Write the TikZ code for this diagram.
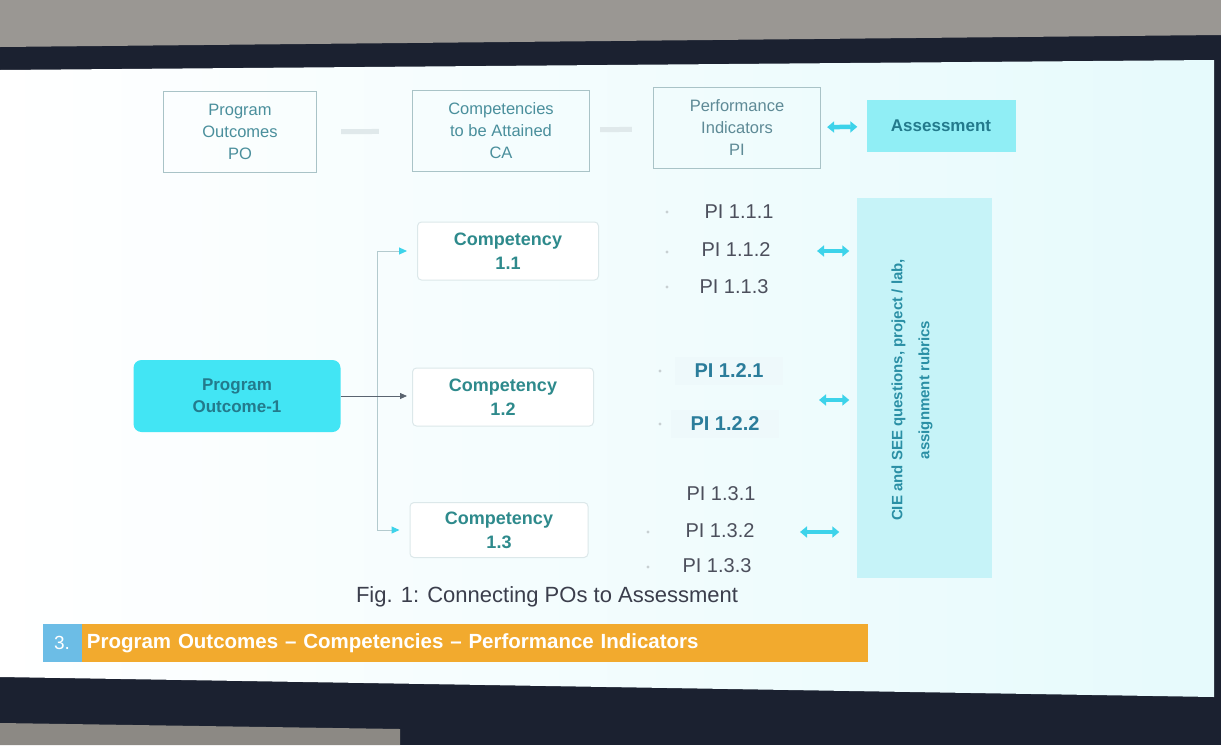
\documentclass[tikz,border=0pt]{standalone}
\usepackage{fontspec}
\setmainfont{Liberation Sans}
\usepackage{tikz}
\usetikzlibrary{arrows.meta, positioning}

\definecolor{wall}{HTML}{9A9793}
\definecolor{bezel}{HTML}{1B2130}
\definecolor{floorgray}{HTML}{8C8984}
\definecolor{slidecyan}{HTML}{E6FAFC}
\definecolor{boxline}{HTML}{A9C3C7}
\definecolor{tealtext}{HTML}{4A8F9C}
\definecolor{pitext}{HTML}{5E8A96}
\definecolor{fadeline}{HTML}{E0E9EB}
\definecolor{compline}{HTML}{DCE8EA}
\definecolor{comptext}{HTML}{2E8A8C}
\definecolor{pocyan}{HTML}{42E5F4}
\definecolor{potext}{HTML}{237A8C}
\definecolor{assesscyan}{HTML}{90EEF5}
\definecolor{toolcyan}{HTML}{C6F3F8}
\definecolor{tooltext}{HTML}{2A8FA5}
\definecolor{arrowcyan}{HTML}{3DD3EA}
\definecolor{branchline}{HTML}{B3CACE}
\definecolor{trunkline}{HTML}{5A6470}
\definecolor{pigray}{HTML}{4C4F5C}
\definecolor{piblue}{HTML}{2B7D9B}
\definecolor{pifill}{HTML}{EEF9FB}
\definecolor{dotgray}{HTML}{C8D0D2}
\definecolor{captext}{HTML}{3B3E4C}
\definecolor{bannerblue}{HTML}{6CBDE6}
\definecolor{bannerorange}{HTML}{F2AA2E}

\begin{document}
\begin{tikzpicture}[x=1pt, y=-1pt,
    topbox/.style={draw=boxline, line width=1.2pt, align=center, text=tealtext,
        font=\fontsize{16.5}{22}\selectfont, minimum height=81pt},
    compbox/.style={draw=compline, line width=1pt, rounded corners=4pt, fill=white,
        align=center, text=comptext, font=\bfseries\fontsize{18}{24}\selectfont,
        minimum width=181pt, minimum height=58pt},
    pilabel/.style={text=pigray, font=\fontsize{20}{24}\selectfont},
    piblue/.style={text=piblue, fill=pifill, minimum width=108pt, minimum height=28pt,
        font=\bfseries\fontsize{20}{24}\selectfont},
    dbl/.style={line width=4.5pt, arrowcyan,
        {Triangle[length=7pt,width=11pt]}-{Triangle[length=7pt,width=11pt]}},
    fade/.style={line width=5pt, fadeline},
    branch/.style={draw=branchline, line width=1pt,
        -{Triangle[length=8pt,width=7pt,color=arrowcyan]}},
    trunk/.style={draw=trunkline, line width=0.8pt,
        -{Triangle[length=7pt,width=6pt]}}]

    \useasboundingbox (0,0) rectangle (1221,745);

    % photo frame: wall, bezel, slide
    \fill[bezel] (0,0) rectangle (1221,745);
    \fill[wall] (0,0) -- (1221,0) -- (1221,35) -- (0,47) -- cycle;
    \fill[floorgray] (0,723) -- (400,729) -- (400,745) -- (0,745) -- cycle;
    \shade[left color=white, right color=slidecyan] (0,70) -- (1214,60) -- (1214,697) -- (0,677) -- cycle;

    % top row
    \node[topbox, minimum width=153pt] (po) at (240,132) {Program\\Outcomes\\PO};
    \node[topbox, minimum width=177pt] (ca) at (501,131) {Competencies\\to be Attained\\CA};
    \node[topbox, minimum width=167pt, text=pitext] (pi) at (737,128) {Performance\\Indicators\\PI};
    \node[fill=assesscyan, minimum width=149pt, minimum height=52pt, text=potext,
        font=\bfseries\fontsize{17}{20}\selectfont] (assess) at (941,126) {Assessment};

    \draw[fade, shorten <=24pt, shorten >=33pt] (po) -- (ca);
    \draw[fade, shorten <=10pt, shorten >=21pt] (ca) -- (pi);
    \draw[dbl, shorten <=6pt, shorten >=9pt] (pi) -- (assess);

    % outcome and competencies
    \node[fill=pocyan, rounded corners=8pt, minimum width=207pt, minimum height=72pt,
        align=center, text=potext, font=\bfseries\fontsize{17}{22}\selectfont] (po1) at (237,396) {Program\\Outcome-1};
    \node[compbox] (comp11) at (508,251) {Competency\\1.1};
    \node[compbox] (comp12) at (503,397) {Competency\\1.2};
    \node[compbox, minimum width=178pt, minimum height=55pt] (comp13) at (499,530) {Competency\\1.3};

    \coordinate (split) at (377,396);
    \draw[branch, shorten >=10pt] (split) |- (comp11);
    \draw[branch, shorten >=10pt] (split) |- (comp13);
    \draw[trunk, shorten >=5pt] (po1.east) -- (po1.east -| comp12.west);

    % performance indicators
    \foreach \nm/\px/\py/\lbl in {p111/739/212/1.1.1, p112/736/250/1.1.2, p113/734/287/1.1.3,
        p131/721/494/1.3.1, p132/720/531/1.3.2, p133/717/566/1.3.3}
        \node[pilabel] (\nm) at (\px,\py) {PI \lbl};
    \node[piblue] (p121) at (729,371) {PI 1.2.1};
    \node[piblue] (p122) at (725,424) {PI 1.2.2};

    \foreach \px/\py in {667/212, 667/252, 667/287, 660/371, 660/424, 648/532, 648/567}
        \fill[dotgray] (\px,\py) circle[radius=1.6pt];

    % assessment tools
    \node[fill=toolcyan, minimum width=135pt, minimum height=380pt] (tools) at (924,388) {};
    \node[rotate=90, align=center, text=tooltext, font=\bfseries\fontsize{15}{27}\selectfont] (toolstext) at (912,390)
        {CIE and SEE questions, project / lab,\\assignment rubrics};

    \coordinate (g1) at (817,251);
    \coordinate (g2) at (819,400);
    \coordinate (g3) at (800,532);
    \draw[dbl, shorten >=7pt] (g1) -- (g1 -| tools.west);
    \draw[dbl, shorten >=7pt] (g2) -- (g2 -| tools.west);
    \draw[dbl, shorten >=17pt] (g3) -- (g3 -| tools.west);

    \node[text=captext, font=\fontsize{22}{24}\selectfont] (caption) at (547,597) {Fig. 1: Connecting POs to Assessment};

    % section banner
    \node[fill=bannerblue, minimum width=39pt, minimum height=38pt, text=white,
        font=\fontsize{19}{22}\selectfont] (num) at (62,643) {3.};
    \node[fill=bannerorange, anchor=west, minimum height=38pt, text width=776pt, inner xsep=5pt,
        text=white, font=\bfseries\fontsize{20.5}{22}\selectfont] (banner) at (num.east)
        {Program Outcomes -- Competencies -- Performance Indicators};
\end{tikzpicture}
\end{document}
